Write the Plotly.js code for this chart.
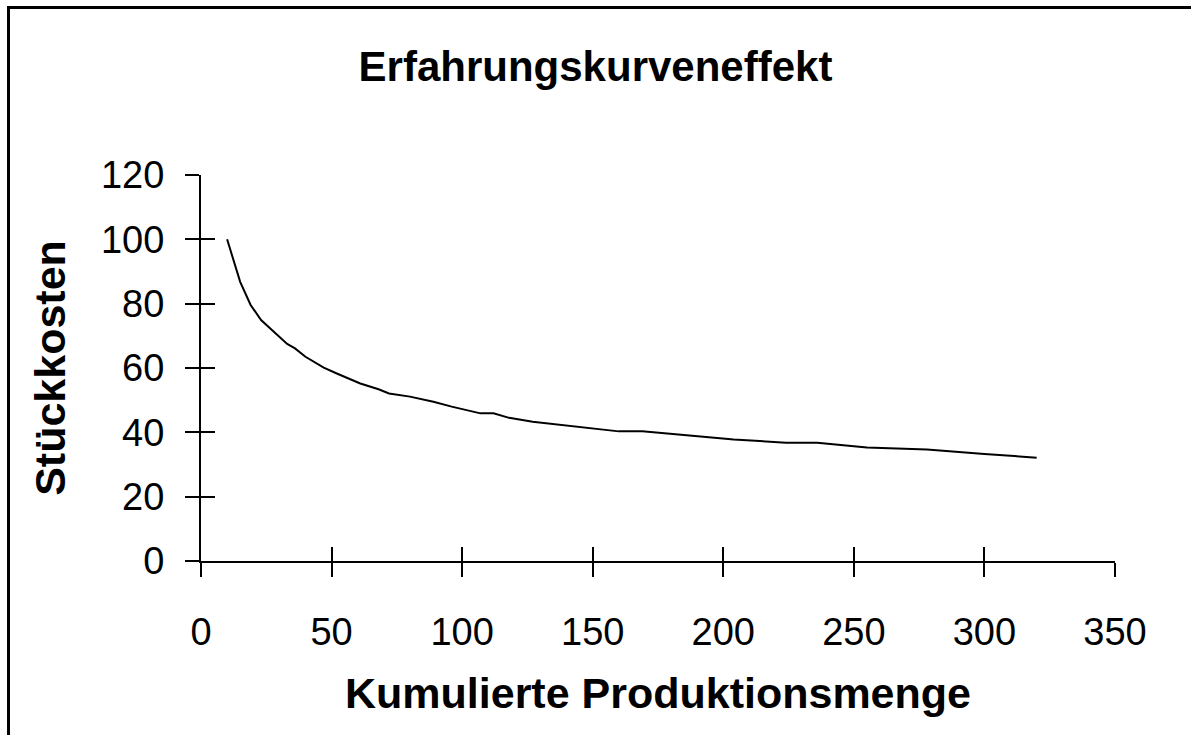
<!DOCTYPE html>
<html>
<head>
<meta charset="utf-8">
<script src="https://cdn.plot.ly/plotly-3.0.1.min.js"></script>
<style>
  html, body { margin:0; padding:0; background:#fff; overflow:hidden; }
  #chart { position:absolute; left:0; top:0; width:1191px; height:735px; }
  #frame { position:absolute; left:7px; top:6px; width:1300px; height:900px;
           border-top:3px solid #000; border-left:3px solid #000; pointer-events:none; }
</style>
</head>
<body>
<div id="chart"></div>
<div id="frame"></div>
<script>
const menge = [10,15,19,23,33,36,40,47,52,56,61,68,72,80,89,96,102,107,112,118,127,145,160,169,185,204,224,236,255,278,300,320];
const kosten = [100,86.8,79.6,74.9,67.5,66.1,63.5,60.1,58.3,57.0,55.2,53.4,52.1,51.1,49.5,48.0,46.9,45.9,45.9,44.5,43.3,41.6,40.3,40.3,39.2,37.8,36.8,36.8,35.3,34.7,33.3,32.1];
const xTicks = [0,50,100,150,200,250,300,350];
const yTicks = [0,20,40,60,80,100,120];
const titleText = 'Erfahrungskurveneffekt';
const xTitle = 'Kumulierte Produktionsmenge';
const yTitle = 'Stückkosten';

const FONT = 'Liberation Sans, Arial, sans-serif';

const traces = [
  { x: menge, y: kosten, type:'scatter', mode:'lines',
    line:{color:'#000', width:2}, hoverinfo:'skip', showlegend:false },
  { x: menge, y: kosten, type:'scatter', mode:'lines', xaxis:'x2', yaxis:'y2',
    line:{color:'rgba(0,0,0,0)', width:0}, hoverinfo:'skip', showlegend:false }
];

const layout = {
  width:1191, height:735,
  margin:{l:201, r:76, t:175, b:174},
  paper_bgcolor:'#fff', plot_bgcolor:'#fff',
  showlegend:false,
  font:{family:FONT, color:'#000'},
  title:{text:'<b>'+titleText+'</b>', font:{family:FONT, size:42, color:'#000'},
         x:0.5, xref:'container', xanchor:'center', y:1-66/735, yref:'container', yanchor:'middle'},
  xaxis:{range:[0,350], tickvals:xTicks, ticktext:xTicks.map(String),
         showgrid:false, zeroline:false, showline:true, linecolor:'#000', linewidth:2,
         ticks:'outside', ticklen:14, tickwidth:2, tickcolor:'#000',
         tickfont:{family:FONT, size:38, color:'#000'}, ticklabelstandoff:22,
         title:{text:'<b>'+xTitle+'</b>', font:{family:FONT, size:43, color:'#000'}, standoff:26},
         automargin:false, fixedrange:true},
  yaxis:{range:[0,120], tickvals:yTicks, ticktext:yTicks.map(String),
         showgrid:false, zeroline:false, showline:true, linecolor:'#000', linewidth:2,
         ticks:'outside', ticklen:14, tickwidth:2, tickcolor:'#000',
         tickfont:{family:FONT, size:38, color:'#000'}, ticklabelstandoff:13,
         title:{text:'<b>'+yTitle+'</b>', font:{family:FONT, size:43, color:'#000'}, standoff:22},
         automargin:false, fixedrange:true},
  xaxis2:{range:[0,350], tickvals:xTicks, overlaying:'x', anchor:'y2', side:'bottom',
          showgrid:false, zeroline:false, showline:false, showticklabels:false,
          ticks:'inside', ticklen:14, tickwidth:2, tickcolor:'#000', fixedrange:true},
  yaxis2:{range:[0,120], tickvals:yTicks, overlaying:'y', anchor:'x2', side:'left',
          showgrid:false, zeroline:false, showline:false, showticklabels:false,
          ticks:'inside', ticklen:14, tickwidth:2, tickcolor:'#000', fixedrange:true}
};

Plotly.newPlot('chart', traces, layout, {displayModeBar:false, staticPlot:true});
</script>
</body>
</html>
